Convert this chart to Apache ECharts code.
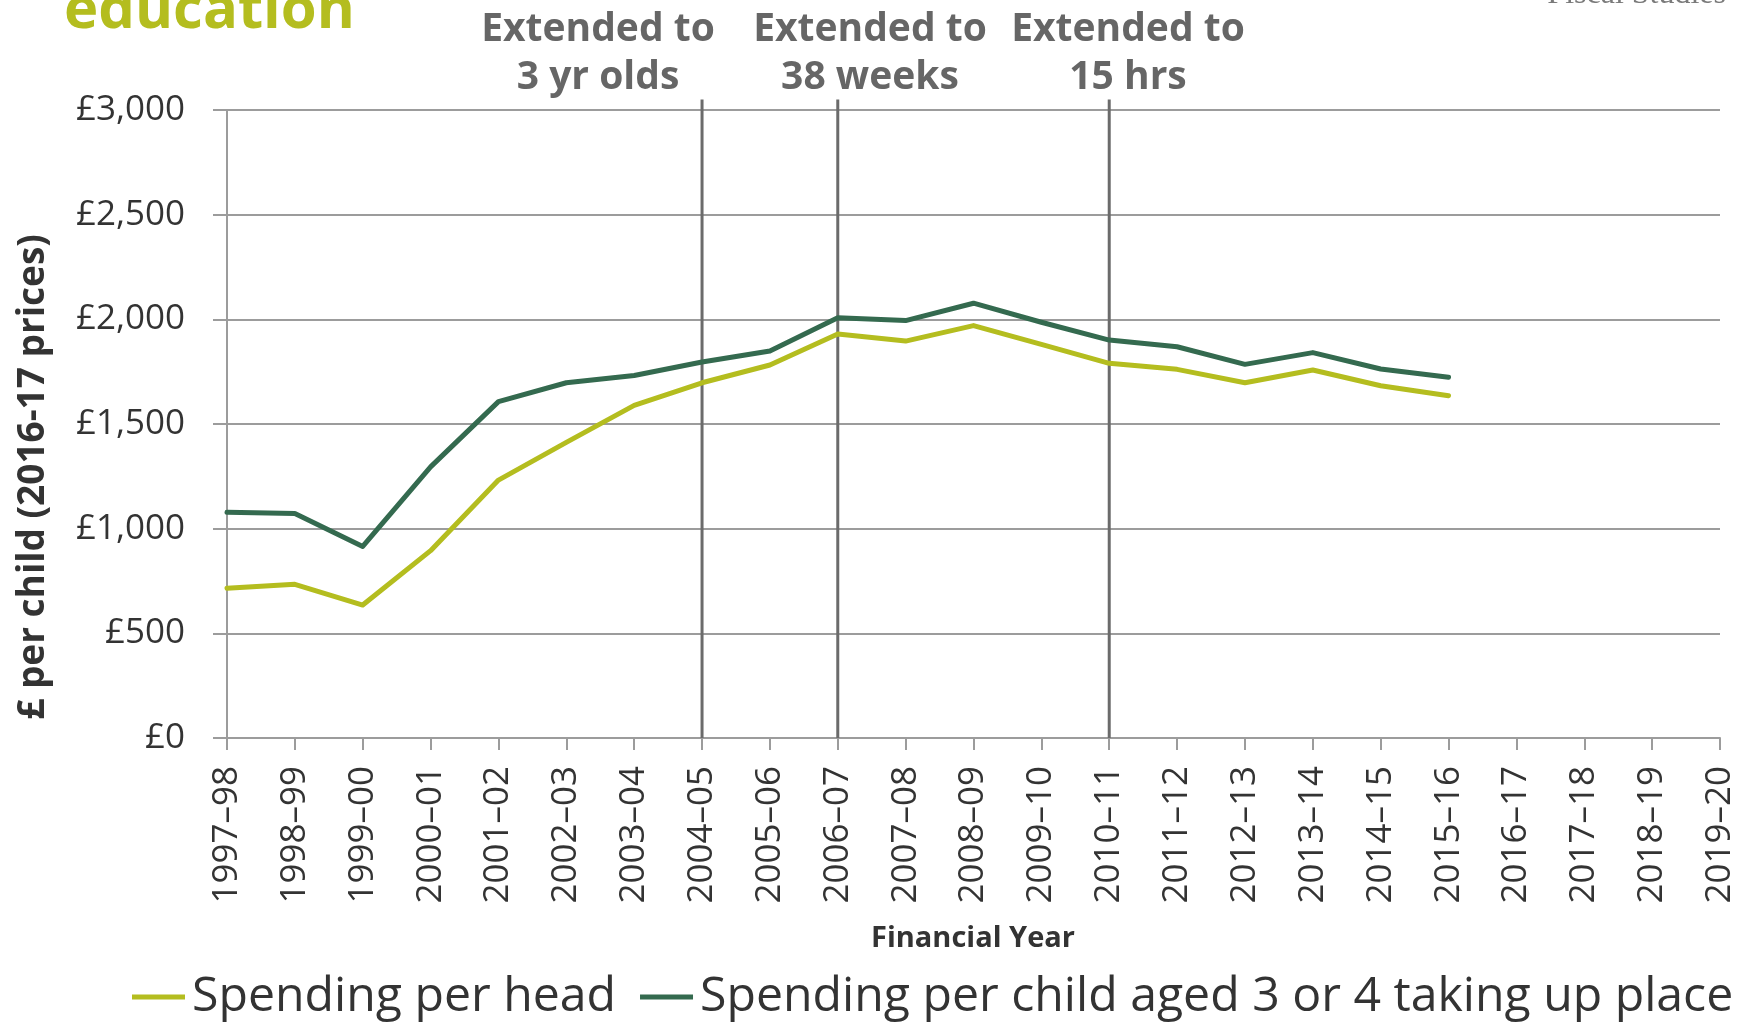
<!DOCTYPE html>
<html>
<head>
<meta charset="utf-8">
<title>Spending on early education</title>
<script src="https://cdn.jsdelivr.net/npm/echarts@6/dist/echarts.min.js"></script>
<style>
  html, body { margin: 0; padding: 0; background: #ffffff; }
  #chart { width: 1754px; height: 1027px; }
</style>
</head>
<body>
<div id="chart"></div>
<script>
// Financial years on the horizontal axis
const years = [
  '1997–98', '1998–99', '1999–00', '2000–01', '2001–02', '2002–03', '2003–04',
  '2004–05', '2005–06', '2006–07', '2007–08', '2008–09', '2009–10', '2010–11',
  '2011–12', '2012–13', '2013–14', '2014–15', '2015–16', '2016–17', '2017–18',
  '2018–19', '2019–20'
];

// £ per child, 2016-17 prices
const spendingPerHead = [
  715, 734, 635, 895, 1232, 1412, 1589, 1697, 1782, 1930, 1896, 1970,
  1880, 1790, 1761, 1697, 1758, 1683, 1635, null, null, null, null
];
const spendingPerPlace = [
  1078, 1073, 915, 1295, 1607, 1697, 1732, 1796, 1849, 2008, 1994, 2077,
  1986, 1901, 1869, 1785, 1841, 1763, 1723, null, null, null, null
];

// Value axis ticks
const yMin = 0;
const yMax = 3000;
const yStep = 500;

// Policy changes marked with vertical rules
const policyYears = ['2004–05', '2006–07', '2010–11'];
const policyLabels = ['Extended to\n3 yr olds', 'Extended to\n38 weeks', 'Extended to\n15 hrs'];
const ruleTop = 3050;

const seriesNames = ['Spending per head', 'Spending per child aged 3 or 4 taking up place'];

const FONT = '"Open Sans", "Noto Sans", sans-serif';
const LIGHT_GREEN = '#b4bd1f';
const DARK_GREEN = '#346a4f';
const AXIS_GREY = '#9c9c9c';
const TEXT_DARK = '#333333';
const RULE_GREY = '#6b6b6b';

const chart = echarts.init(document.getElementById('chart'), null, { renderer: 'canvas' });

const labelX = [598, 870, 1128];

const option = {
  animation: false,
  backgroundColor: '#ffffff',
  textStyle: { fontFamily: FONT },
  grid: { left: 227, right: 34, top: 110, bottom: 289, containLabel: false },
  legend: {
    data: seriesNames,
    left: 132,
    top: 973,
    padding: 0,
    icon: 'rect',
    itemWidth: 53,
    itemHeight: 5,
    itemGap: 24,
    selectedMode: false,
    textStyle: { fontFamily: FONT, fontSize: 48.2, color: TEXT_DARK, padding: [0, 0, 0, 2] }
  },
  xAxis: {
    type: 'category',
    data: years,
    boundaryGap: false,
    axisLine: { show: true, lineStyle: { color: AXIS_GREY, width: 2 } },
    axisTick: { show: true, length: 12, interval: 0, lineStyle: { color: AXIS_GREY, width: 2 } },
    axisLabel: {
      interval: 0,
      rotate: 90,
      margin: 28,
      fontFamily: FONT,
      fontSize: 35,
      color: TEXT_DARK
    },
    splitLine: { show: false }
  },
  yAxis: {
    type: 'value',
    min: yMin,
    max: yMax,
    interval: yStep,
    axisLine: { show: true, lineStyle: { color: AXIS_GREY, width: 2 } },
    axisTick: { show: true, length: 14, lineStyle: { color: AXIS_GREY, width: 2 } },
    axisLabel: {
      margin: 42,
      fontFamily: FONT,
      fontSize: 35,
      color: TEXT_DARK,
      formatter: v => '£' + v.toLocaleString('en-GB')
    },
    splitLine: { show: true, lineStyle: { color: AXIS_GREY, width: 2 } }
  },
  series: [
    {
      name: 'policy changes',
      type: 'custom',
      silent: true,
      z: 1,
      data: policyYears.map(y => [y, ruleTop]),
      encode: { x: 0, y: 1 },
      renderItem: function (params, api) {
        const base = api.coord([api.value(0), 0]);
        const top = api.coord([api.value(0), api.value(1)]);
        return {
          type: 'line',
          shape: { x1: base[0], y1: base[1], x2: top[0], y2: top[1] },
          style: { stroke: RULE_GREY, lineWidth: 3 }
        };
      }
    },
    {
      name: seriesNames[0],
      type: 'line',
      data: spendingPerHead,
      symbol: 'none',
      z: 3,
      itemStyle: { color: LIGHT_GREEN },
      lineStyle: { color: LIGHT_GREEN, width: 5, cap: 'round', join: 'round' }
    },
    {
      name: seriesNames[1],
      type: 'line',
      data: spendingPerPlace,
      symbol: 'none',
      z: 4,
      itemStyle: { color: DARK_GREEN },
      lineStyle: { color: DARK_GREEN, width: 5, cap: 'round', join: 'round' }
    }
  ],
  graphic: [
    {
      type: 'text',
      left: 64,
      top: -18,
      style: { text: 'education', font: 'bold 58px ' + FONT, fill: LIGHT_GREEN }
    },
    {
      type: 'text',
      x: 1726,
      y: -5,
      style: {
        text: 'Fiscal Studies',
        font: '32px "Liberation Serif", "DejaVu Serif", serif',
        fill: '#7a7a7a',
        align: 'right',
        verticalAlign: 'middle'
      }
    },
    ...policyLabels.map((t, i) => ({
      type: 'text',
      x: labelX[i],
      y: 54,
      style: {
        text: t,
        font: 'bold 39px ' + FONT,
        fill: '#666666',
        align: 'center',
        verticalAlign: 'middle',
        lineHeight: 48
      }
    })),
    {
      type: 'text',
      x: 33,
      y: 477,
      rotation: Math.PI / 2,
      style: {
        text: '£ per child (2016-17 prices)',
        font: 'bold 37px ' + FONT,
        fill: TEXT_DARK,
        align: 'center',
        verticalAlign: 'middle'
      }
    },
    {
      type: 'text',
      x: 973,
      y: 939,
      style: {
        text: 'Financial Year',
        font: 'bold 29px ' + FONT,
        fill: TEXT_DARK,
        align: 'center',
        verticalAlign: 'middle'
      }
    }
  ]
};

chart.setOption(option);
</script>
</body>
</html>
